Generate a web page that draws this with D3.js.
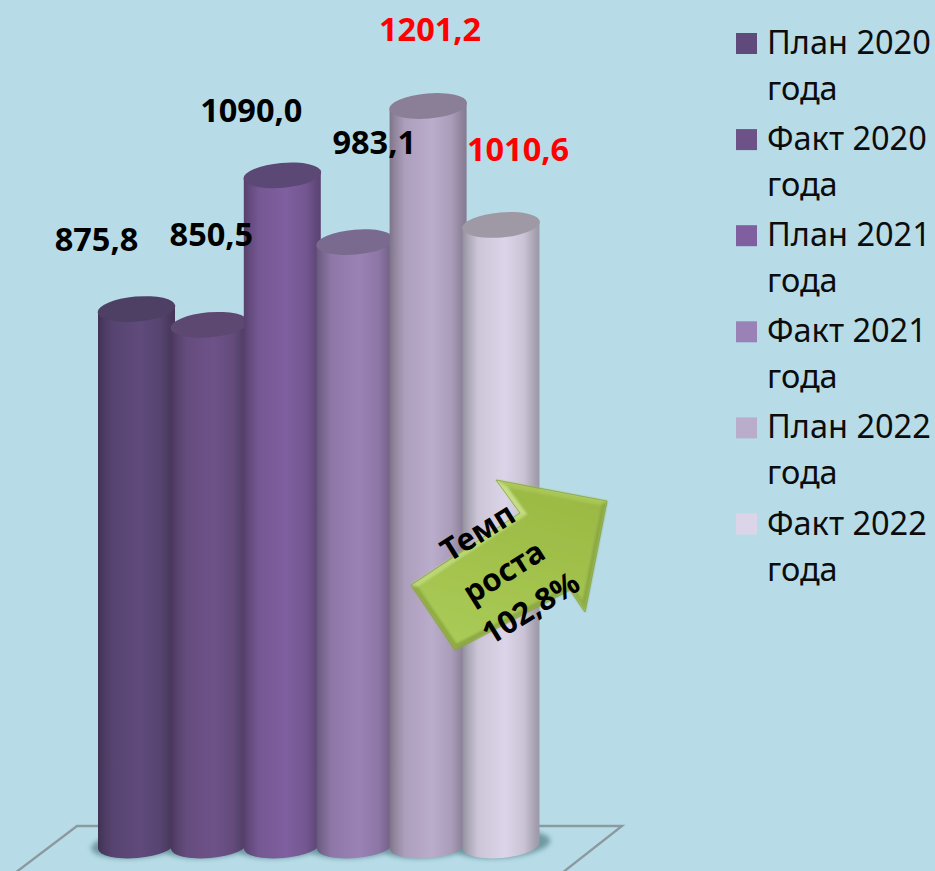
<!DOCTYPE html>
<html><head><meta charset="utf-8">
<script src="https://cdn.jsdelivr.net/npm/d3@7/dist/d3.min.js"></script>
<style>html,body{margin:0;padding:0;background:#b7dce8}svg{display:block}</style>
</head><body><svg id="c" width="935" height="871"></svg>
<script>
const categories = ["План 2020 года","Факт 2020 года","План 2021 года","Факт 2021 года","План 2022 года","Факт 2022 года"];
const values = [875.8,850.5,1090.0,983.1,1201.2,1010.6];
const valueLabels = ["875,8","850,5","1090,0","983,1","1201,2","1010,6"];
const colors = ["#5f4a7b","#6d5288","#7f5f9f","#9a82b6","#baaccb","#dcd5e9"];
const topColors = ["#4e3f65","#5c4870","#5c4875","#7a6a90","#8b7f97","#9f99a6"];
const labelColors = ["#000","#000","#000","#000","#f00","#f00"];
const labelOffsets = [[-40,-58],[2,-79],[-31,-53],[19,-88],[2,-65],[17,-64]];
const arrowLines = ["Темп","роста","102,8%"];
const arrowLinePos = [[479,534],[505,574],[532,610]];
const arrowPts = [[496,480],[607,501],[585,612],[570,590],[455,650],[411,585],[520,513]];

const svg = d3.select("#c");
const font = "'Noto Sans','Open Sans',sans-serif";
const W=935,H=871;
svg.append("rect").attr("width",W).attr("height",H).attr("fill","#b7dce8");
const defs = svg.append("defs");
defs.append("filter").attr("id","blur").attr("x","-30%").attr("y","-60%").attr("width","160%").attr("height","220%")
  .append("feGaussianBlur").attr("stdDeviation",2.5);
defs.append("filter").attr("id","soft").attr("x","-5%").attr("y","-5%").attr("width","110%").attr("height","110%")
  .append("feGaussianBlur").attr("stdDeviation",0.9);

const x = d3.scalePoint().domain(categories).range([136.5,501]);
const y = d3.scaleLinear().domain([0,1201.2]).range([855.5,106]);
const rx=38.5, ry=12.5, tilt=-5, floorY=845.5;

// floor
svg.append("path").attr("d",d3.line()([[15,873],[77,826],[622,826],[562,873]]))
  .attr("fill","none").attr("stroke","#8c9aa0").attr("stroke-width",2.4);

// shadows
svg.append("g").selectAll("ellipse").data(categories).join("ellipse")
  .attr("cx",d=>x(d)+2).attr("cy",floorY-1).attr("rx",rx+9).attr("ry",ry+1)
  .attr("transform",d=>`rotate(${tilt} ${x(d)+2} ${floorY-1})`)
  .attr("fill","#6f9aa2").attr("filter","url(#blur)");

// gradients
categories.forEach((c,i)=>{
  const b=d3.color(colors[i]);
  const g=defs.append("linearGradient").attr("id","g"+i);
  const stops=[[0,b.darker(1.1)],[.07,b.darker(.7)],[.2,b.darker(.22)],[.55,b],[.8,b.darker(.25)],[.95,b.darker(.8)],[1,b.darker(.95)]];
  stops.forEach(s=>g.append("stop").attr("offset",s[0]).attr("stop-color",s[1].formatHex()));
});

// cylinders
const bars=svg.append("g").selectAll("g").data(categories).join("g");
const t=Math.tan(tilt*Math.PI/180);
bars.append("path").attr("fill",(d,i)=>`url(#g${i})`)
 .attr("d",(d,i)=>{
   const cx=x(d), top=y(values[i]);
   const l=-t*rx, arc=`A${rx} ${ry} ${tilt} 0 1`;
   return `M${cx-rx} ${top+l}L${cx+rx} ${top-l}L${cx+rx} ${floorY-l}${arc} ${cx-rx} ${floorY+l}Z`;
 });
bars.append("ellipse")
  .attr("cx",d=>x(d)).attr("cy",(d,i)=>y(values[i])).attr("rx",rx+.5).attr("ry",ry)
  .attr("transform",(d,i)=>`rotate(${tilt} ${x(d)} ${y(values[i])})`)
  .attr("fill",(d,i)=>topColors[i]);

// labels
svg.append("g").selectAll("text").data(categories).join("text")
  .attr("x",(d,i)=>x(d)+labelOffsets[i][0]).attr("y",(d,i)=>y(values[i])+labelOffsets[i][1])
  .attr("text-anchor","middle").attr("font-family",font).attr("font-weight",700).attr("font-size",32.5)
  .attr("fill",(d,i)=>labelColors[i]).text((d,i)=>valueLabels[i]);

// arrow
const ag=defs.append("linearGradient").attr("id","arrow").attr("x1",.7).attr("y1",0).attr("x2",.35).attr("y2",1);
ag.append("stop").attr("offset",0).attr("stop-color","#9bb943");
ag.append("stop").attr("offset",1).attr("stop-color","#a9ca56");
const n=arrowPts.length;
const inset=arrowPts.map((p,i)=>{
  const a=arrowPts[(i+n-1)%n],b=arrowPts[(i+1)%n];
  const nrm=(u,v)=>{const dx=v[0]-u[0],dy=v[1]-u[1],L=Math.hypot(dx,dy);return [dx/L,dy/L];};
  const e1=nrm(a,p),e2=nrm(p,b),d=5;
  const n1=[-e1[1],e1[0]],n2=[-e2[1],e2[0]];
  const mx=n1[0]+n2[0],my=n1[1]+n2[1],den=1+n1[0]*n2[0]+n1[1]*n2[1];
  return [p[0]+d*mx/den,p[1]+d*my/den];
});
const ar=svg.append("g");
const shades=["#a9c650","#8caa3c","#94b140","#8caa3c","#90ad3e","#bcd970","#c4de80"];
const bevel=ar.append("g").attr("filter","url(#soft)");
arrowPts.forEach((p,i)=>{
  const j=(i+1)%n;
  bevel.append("path").attr("d",d3.line()([p,arrowPts[j],inset[j],inset[i]])+"Z").attr("fill",shades[i]).attr("stroke",shades[i]).attr("stroke-width",.4);
});
bevel.append("path").attr("d",d3.line()(inset)+"Z").attr("fill","url(#arrow)");
ar.append("path").attr("d",d3.line()(arrowPts)+"Z").attr("fill","none").attr("stroke","#86a340").attr("stroke-width",.8);
ar.selectAll("text").data(arrowLines).join("text")
  .attr("transform",(d,i)=>`translate(${arrowLinePos[i][0]},${arrowLinePos[i][1]}) rotate(-32)`)
  .attr("text-anchor","middle").attr("dominant-baseline","middle")
  .attr("font-family",font).attr("font-weight",700).attr("font-size",31).attr("fill","#000").text(d=>d);

// legend
const lg=svg.append("g").selectAll("g").data(categories).join("g")
  .attr("transform",(d,i)=>`translate(736,${33+i*96.1})`);
lg.append("rect").attr("width",21).attr("height",21).attr("fill",(d,i)=>colors[i]);
lg.append("text").attr("x",31).attr("y",21).attr("font-family",font).attr("font-size",32.5).attr("fill","#0c0c0c").text(d=>d.split(" ").slice(0,2).join(" "));
lg.append("text").attr("x",31).attr("y",67).attr("font-family",font).attr("font-size",32.5).attr("fill","#0c0c0c").text(d=>d.split(" ")[2]);
</script></body></html>
